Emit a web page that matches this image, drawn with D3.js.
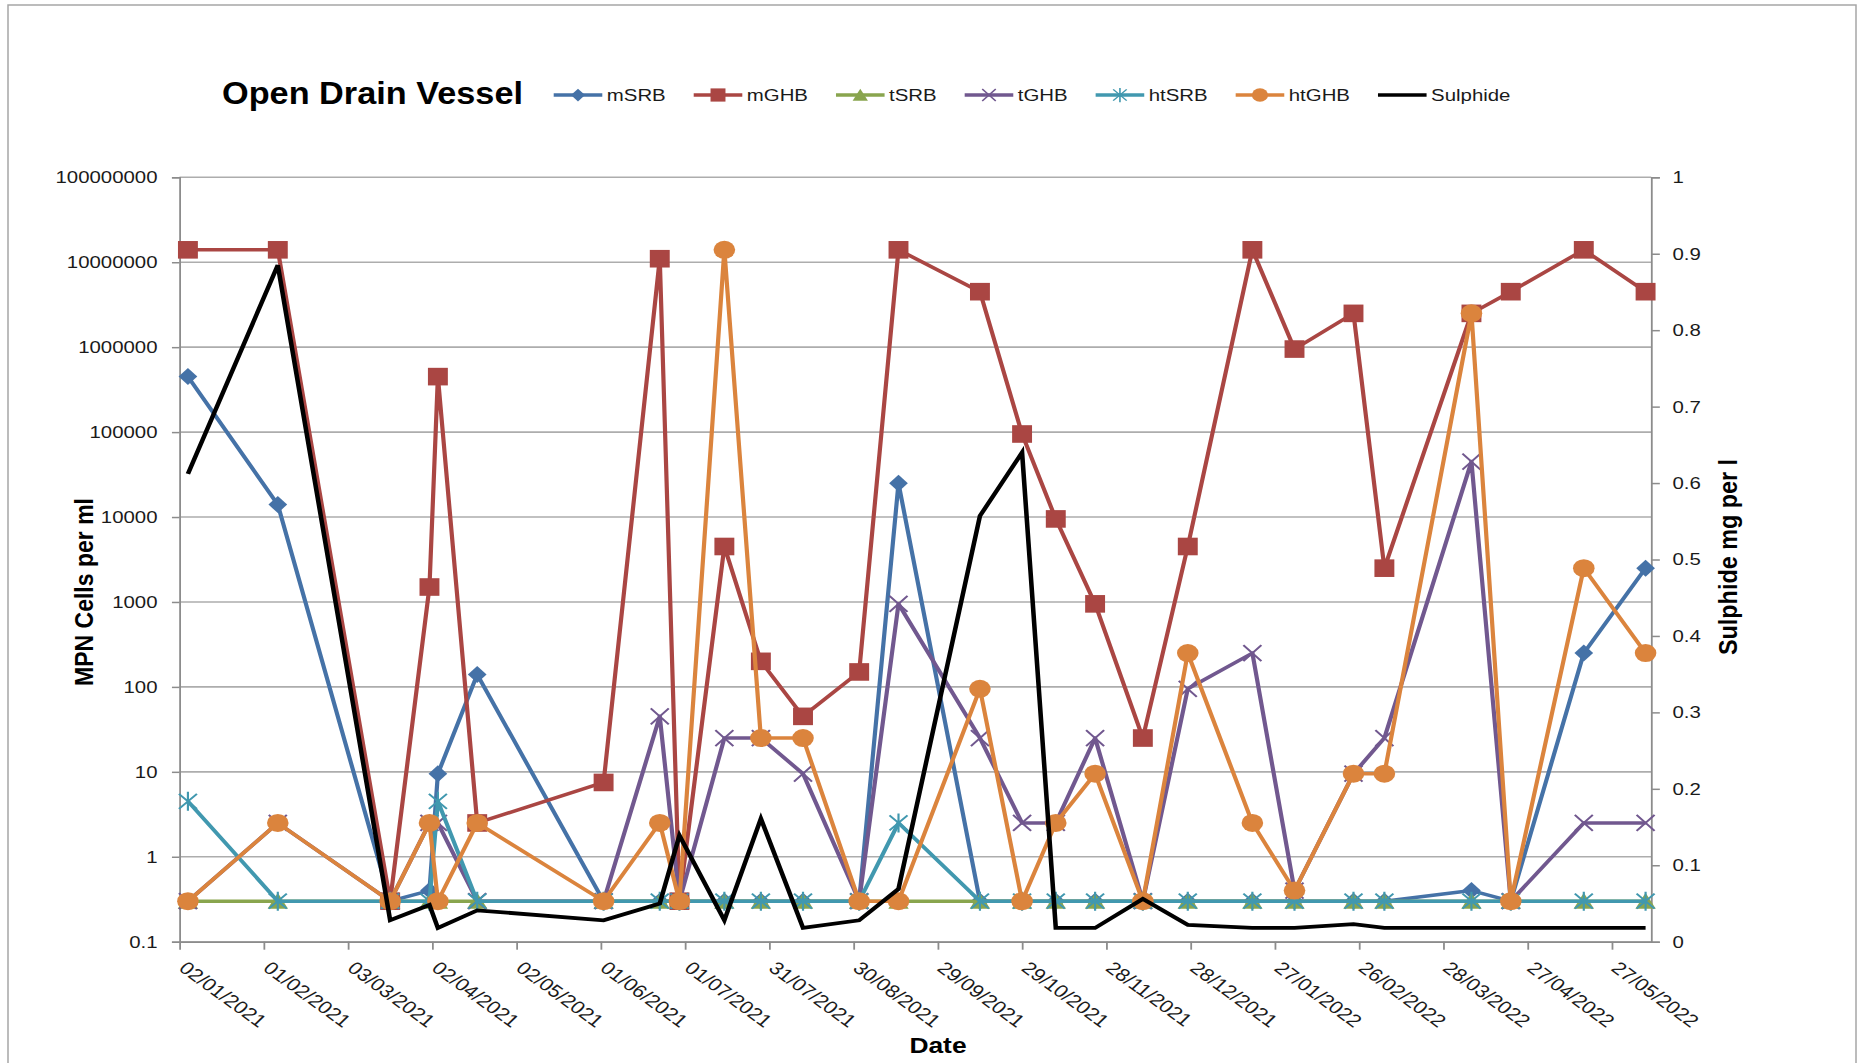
<!DOCTYPE html>
<html>
<head>
<meta charset="utf-8">
<script src="https://cdn.jsdelivr.net/npm/d3@7"></script>
<style>
  body { margin: 0; background: #fff; }
  svg { display: block; }
  text { font-family: "Liberation Sans", Arial, sans-serif; }
</style>
</head>
<body>
<svg id="chart" width="1859" height="1063"></svg>
<script>
// ---- data -------------------------------------------------------------
const sampleDates = [
  "2021-01-05","2021-02-06","2021-03-18","2021-04-01","2021-04-04","2021-04-18",
  "2021-06-02","2021-06-22","2021-06-29","2021-07-15","2021-07-28","2021-08-12",
  "2021-09-01","2021-09-15","2021-10-14","2021-10-29","2021-11-10","2021-11-24",
  "2021-12-11","2021-12-27","2022-01-19","2022-02-03","2022-02-24","2022-03-07",
  "2022-04-07","2022-04-21","2022-05-17","2022-06-08"
];
const mSRB  = [450000,14000,0.3,0.4,9.5,140,0.3,0.3,0.3,0.3,0.3,0.3,0.3,25000,0.3,0.3,0.3,0.3,0.3,0.3,0.3,0.3,0.3,0.3,0.4,0.3,250,2500];
const mGHB  = [14000000,14000000,0.3,1500,450000,2.5,7.5,11000000,0.3,4500,200,45,150,14000000,4500000,95000,9500,950,25,4500,14000000,950000,2500000,2500,2500000,4500000,14000000,4500000];
const tSRB  = [0.3,0.3,0.3,0.3,0.3,0.3,0.3,0.3,0.3,0.3,0.3,0.3,0.3,0.3,0.3,0.3,0.3,0.3,0.3,0.3,0.3,0.3,0.3,0.3,0.3,0.3,0.3,0.3];
const tGHB  = [0.3,2.5,0.3,2.5,2.5,0.3,0.3,45,0.3,25,25,9.5,0.3,950,25,2.5,2.5,25,0.3,95,250,0.4,9.5,25,45000,0.3,2.5,2.5];
const htSRB = [4.5,0.3,0.3,0.3,4.5,0.3,0.3,0.3,0.3,0.3,0.3,0.3,0.3,2.5,0.3,0.3,0.3,0.3,0.3,0.3,0.3,0.3,0.3,0.3,0.3,0.3,0.3,0.3];
const htGHB = [0.3,2.5,0.3,2.5,0.3,2.5,0.3,2.5,0.3,14000000,25,25,0.3,0.3,95,0.3,2.5,9.5,0.3,250,2.5,0.4,9.5,9.5,2500000,0.3,2500,250];
const sulphide = [0.612,0.885,0.028,0.048,0.018,0.041,0.028,0.05,0.139,0.028,0.161,0.018,0.028,0.069,0.557,0.64,0.018,0.018,0.056,0.022,0.018,0.018,0.023,0.018,0.018,0.018,0.018,0.018];

const seriesNames = ["mSRB","mGHB","tSRB","tGHB","htSRB","htGHB","Sulphide"];
const seriesColors = ["#4572A7","#AA4643","#89A54E","#71588F","#4198AF","#DB843D","#000000"];
const seriesMarkers = ["diamond","square","triangle","cross","star","circle","none"];
const bacteriaSeries = [mSRB, mGHB, tSRB, tGHB, htSRB, htGHB];

const xTickStart = "2021-01-02";
const xTickStepDays = 30;
const xTickCount = 18;
const xDomainEnd = "2022-06-10";
const yTicks = [0.1,1,10,100,1000,10000,100000,1000000,10000000,100000000];
const y2Ticks = [0,0.1,0.2,0.3,0.4,0.5,0.6,0.7,0.8,0.9,1];

const chartTitle = "Open Drain Vessel";
const xTitle = "Date";
const yTitle = "MPN Cells per ml";
const y2Title = "Sulphide mg per l";

// ---- layout -----------------------------------------------------------
// The whole drawing is laid out in a narrower space and widened by SX.
const SX = 1.2;
const ux = v => v / SX;
const plot = { left: 179.5, right: 1651.2, top: 177.3, bottom: 941.7 };

const parse = d3.utcParse("%Y-%m-%d");
const dates = sampleDates.map(parse);
const tickStart = parse(xTickStart);
const xTickValues = d3.range(xTickCount).map(i => d3.utcDay.offset(tickStart, i * xTickStepDays));

const x = d3.scaleUtc().domain([tickStart, parse(xDomainEnd)]).range([ux(plot.left), ux(plot.right)]);
const y = d3.scaleLog().domain([0.1, 1e8]).range([plot.bottom, plot.top]);
const y2 = d3.scaleLinear().domain([0, 1]).range([plot.bottom, plot.top]);

const svg = d3.select("#chart");
svg.append("rect").attr("x", 8).attr("y", 5).attr("width", 1848).attr("height", 1100)
  .attr("fill", "#fff").attr("stroke", "#a6a6a6").attr("stroke-width", 1.5);

const root = svg.append("g").attr("transform", `scale(${SX},1)`);

// gridlines
root.append("g").selectAll("line").data(yTicks).join("line")
  .attr("x1", x.range()[0]).attr("x2", x.range()[1])
  .attr("y1", d => y(d)).attr("y2", d => y(d))
  .attr("stroke", "#adadad").attr("stroke-width", 1.6);

const axisColor = "#8c8c8c";
const labelColor = "#1a1a1a";
const tickFont = "Liberation Sans, Arial, sans-serif";

// left axis
const gy = root.append("g").attr("transform", `translate(${x.range()[0]},0)`)
  .call(d3.axisLeft(y).tickValues(yTicks).tickFormat(d3.format("~f")).tickSize(6.3).tickPadding(12));
gy.select(".domain").attr("stroke", axisColor).attr("stroke-width", 1.5);
gy.selectAll(".tick line").attr("stroke", axisColor).attr("stroke-width", 1.5);
gy.selectAll(".tick text").attr("font-size", 17).attr("fill", labelColor).attr("font-family", tickFont);

// right axis
const gy2 = root.append("g").attr("transform", `translate(${x.range()[1]},0)`)
  .call(d3.axisRight(y2).tickValues(y2Ticks).tickFormat(d3.format("~g")).tickSize(7.2).tickPadding(10.5));
gy2.select(".domain").attr("stroke", axisColor).attr("stroke-width", 1.5);
gy2.selectAll(".tick line").attr("stroke", axisColor).attr("stroke-width", 1.5);
gy2.selectAll(".tick text").attr("font-size", 17).attr("fill", labelColor).attr("font-family", tickFont);

// bottom axis with slanted date labels
const gx = root.append("g").attr("transform", `translate(0,${plot.bottom})`)
  .call(d3.axisBottom(x).tickValues(xTickValues).tickFormat(d3.utcFormat("%d/%m/%Y")).tickSize(8).tickSizeOuter(0));
gx.select(".domain").attr("stroke", axisColor).attr("stroke-width", 1.5);
gx.selectAll(".tick line").attr("stroke", axisColor).attr("stroke-width", 1.5);
gx.selectAll(".tick text")
  .attr("font-size", 17.8).attr("fill", labelColor).attr("font-family", tickFont)
  .attr("text-anchor", "start").attr("x", 0).attr("y", 0).attr("dy", 0)
  .attr("transform", "translate(-2,28) rotate(41)");

// ---- marker shapes ----------------------------------------------------
function drawMarker(sel, type, color) {
  switch (type) {
    case "diamond":
      sel.append("path").attr("d", "M0,-8.5L7.8,0L0,8.5L-7.8,0Z").attr("fill", color); break;
    case "square":
      sel.append("rect").attr("x", -8.3).attr("y", -8.8).attr("width", 16.6).attr("height", 17.6).attr("fill", color); break;
    case "triangle":
      sel.append("path").attr("d", "M0,-8.5L8.5,7.5L-8.5,7.5Z").attr("fill", color); break;
    case "cross":
      sel.append("path").attr("d", "M-7.5,-8L7.5,8M-7.5,8L7.5,-8").attr("stroke", color).attr("stroke-width", 1.8).attr("fill", "none"); break;
    case "star":
      sel.append("path").attr("d", "M-7.5,-7.5L7.5,7.5M-7.5,7.5L7.5,-7.5M0,-9.5L0,9.5").attr("stroke", color).attr("stroke-width", 1.8).attr("fill", "none"); break;
    case "circle":
      sel.append("circle").attr("r", 9).attr("fill", color); break;
  }
}

// ---- series -----------------------------------------------------------
const line = d3.line().x(d => x(d.date)).y(d => d.py);

bacteriaSeries.forEach((vals, i) => {
  const pts = vals.map((v, j) => ({ date: dates[j], py: y(v) }));
  const g = root.append("g");
  g.append("path").attr("d", line(pts)).attr("fill", "none")
    .attr("stroke", seriesColors[i]).attr("stroke-width", 3.5).attr("stroke-linejoin", "round");
  g.selectAll("g.m").data(pts).join("g").attr("class", "m")
    .attr("transform", d => `translate(${x(d.date)},${d.py})`)
    .each(function () { drawMarker(d3.select(this), seriesMarkers[i], seriesColors[i]); });
});

const sPts = sulphide.map((v, j) => ({ date: dates[j], py: y2(v) }));
root.append("path").attr("d", line(sPts)).attr("fill", "none")
  .attr("stroke", seriesColors[6]).attr("stroke-width", 3.8).attr("stroke-linejoin", "miter");

// ---- titles -----------------------------------------------------------
root.append("text").attr("x", ux(222)).attr("y", 104)
  .attr("font-size", 32).attr("font-weight", "bold").attr("fill", "#000")
  .attr("textLength", ux(301)).attr("lengthAdjust", "spacingAndGlyphs")
  .text(chartTitle);

root.append("text").attr("x", ux(938)).attr("y", 1053).attr("text-anchor", "middle")
  .attr("font-size", 22).attr("font-weight", "bold").attr("fill", "#000").text(xTitle);

root.append("text").attr("transform", `translate(${ux(93.3)},592) rotate(-90)`).attr("text-anchor", "middle")
  .attr("font-size", 22).attr("font-weight", "bold").attr("fill", "#000")
  .attr("textLength", 188).attr("lengthAdjust", "spacingAndGlyphs").text(yTitle);

root.append("text").attr("transform", `translate(${ux(1736.7)},557) rotate(-90)`).attr("text-anchor", "middle")
  .attr("font-size", 22).attr("font-weight", "bold").attr("fill", "#000")
  .attr("textLength", 196).attr("lengthAdjust", "spacingAndGlyphs").text(y2Title);

// ---- legend -----------------------------------------------------------
const legend = root.append("g").attr("transform", `translate(${ux(553.7)},95)`);
let lx = 0;
seriesNames.forEach((name, i) => {
  const item = legend.append("g").attr("transform", `translate(${lx},0)`);
  const lw = ux(48.6);
  item.append("line").attr("x1", 0).attr("x2", lw).attr("y1", 0).attr("y2", 0)
    .attr("stroke", seriesColors[i]).attr("stroke-width", 3.6);
  const mk = item.append("g");
  drawMarker(mk, seriesMarkers[i], seriesColors[i]);
  mk.attr("transform", `translate(${lw / 2},0) scale(0.75)`);
  const t = item.append("text").attr("x", lw + ux(4.5)).attr("y", 6)
    .attr("font-size", 17).attr("fill", "#1a1a1a").text(name);
  lx += lw + ux(4.5) + t.node().getComputedTextLength() + ux(28);
});
</script>
</body>
</html>
